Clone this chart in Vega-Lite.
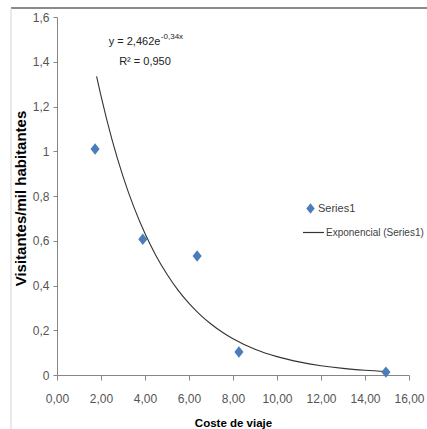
{
  "$schema": "https://vega.github.io/schema/vega-lite/v6.json",
  "width": 352,
  "height": 358,
  "autosize": "none",
  "padding": {"left": 57, "top": 17, "right": 18, "bottom": 54},
  "background": "white",
  "config": {"view": {"stroke": null}},
  "datasets": {
    "points": [
      {"coste": 1.73, "visitantes": 1.01},
      {"coste": 3.9, "visitantes": 0.607},
      {"coste": 6.37, "visitantes": 0.532},
      {"coste": 8.27, "visitantes": 0.103},
      {"coste": 14.95, "visitantes": 0.013}
    ],
    "curve": [
      {"coste": 1.8, "visitantes": 1.335},
      {"coste": 2.0, "visitantes": 1.247},
      {"coste": 2.5, "visitantes": 1.052},
      {"coste": 3.0, "visitantes": 0.888},
      {"coste": 3.5, "visitantes": 0.749},
      {"coste": 4.0, "visitantes": 0.632},
      {"coste": 4.5, "visitantes": 0.533},
      {"coste": 5.0, "visitantes": 0.45},
      {"coste": 5.5, "visitantes": 0.379},
      {"coste": 6.0, "visitantes": 0.32},
      {"coste": 6.5, "visitantes": 0.27},
      {"coste": 7.0, "visitantes": 0.228},
      {"coste": 7.5, "visitantes": 0.192},
      {"coste": 8.0, "visitantes": 0.162},
      {"coste": 9.0, "visitantes": 0.115},
      {"coste": 10.0, "visitantes": 0.082},
      {"coste": 11.0, "visitantes": 0.0585},
      {"coste": 12.0, "visitantes": 0.0416},
      {"coste": 13.0, "visitantes": 0.0296},
      {"coste": 14.0, "visitantes": 0.0211},
      {"coste": 15.0, "visitantes": 0.015}
    ],
    "eq": [{"t": "y = 2,462e"}],
    "eqsup": [{"t": "-0,34x"}],
    "r2": [{"t": "R² = 0,950"}],
    "one": [{}]
  },
  "layer": [
    {
      "data": {"name": "one"},
      "mark": {"type": "rule", "color": "#8a8a8a", "strokeWidth": 2},
      "encoding": {
        "x": {"datum": -2.09, "type": "quantitative", "scale": {"domain": [0, 16], "nice": false}},
        "x2": {"datum": 16.9},
        "y": {"datum": 1.64, "type": "quantitative", "scale": {"domain": [0, 1.6], "nice": false}}
      }
    },
    {
      "data": {"name": "one"},
      "mark": {"type": "rule", "color": "#d4d4d4", "strokeWidth": 1},
      "encoding": {
        "x": {"datum": -2.09, "type": "quantitative"},
        "y": {"datum": 1.64, "type": "quantitative"},
        "y2": {"datum": -0.25}
      }
    },
    {
      "data": {"name": "curve"},
      "mark": {"type": "line", "color": "#333333", "strokeWidth": 1.1, "interpolate": "monotone"},
      "encoding": {
        "x": {
          "field": "coste", "type": "quantitative",
          "scale": {"domain": [0, 16], "nice": false},
          "axis": {
            "values": [0, 2, 4, 6, 8, 10, 12, 14, 16],
            "labelExpr": "replace(format(datum.value, '.2f'), '.', ',')",
            "labelOverlap": false,
            "labelFlush": false,
            "grid": false,
            "domainColor": "#868686",
            "tickColor": "#868686",
            "tickSize": 5,
            "labelFont": "Liberation Sans, Arial, sans-serif",
            "labelFontSize": 12,
            "labelColor": "#555555",
            "labelPadding": 13,
            "title": "Coste de viaje",
            "titleFont": "Liberation Sans, Arial, sans-serif",
            "titleFontSize": 11.5,
            "titleFontWeight": "bold",
            "titleColor": "#000000",
            "titleX": 176,
            "titleY": 48,
            "titleBaseline": "middle",
            "titleAlign": "center"
          }
        },
        "y": {
          "field": "visitantes", "type": "quantitative",
          "scale": {"domain": [0, 1.6], "nice": false},
          "axis": {
            "values": [0, 0.2, 0.4, 0.6, 0.8, 1, 1.2, 1.4, 1.6],
            "labelExpr": "replace(format(datum.value, '~g'), '.', ',')",
            "grid": false,
            "domainColor": "#868686",
            "tickColor": "#868686",
            "tickSize": 4,
            "labelFont": "Liberation Sans, Arial, sans-serif",
            "labelFontSize": 12,
            "labelColor": "#555555",
            "labelPadding": 4,
            "title": "Visitantes/mil habitantes",
            "titleFont": "Liberation Sans, Arial, sans-serif",
            "titleFontSize": 15,
            "titleFontWeight": "bold",
            "titleColor": "#000000",
            "titleX": -37,
            "titleY": 181,
            "titleAngle": -90,
            "titleBaseline": "middle",
            "titleAlign": "center"
          }
        },
        "stroke": {
          "datum": "Exponencial (Series1)",
          "scale": {"range": ["#333333"]},
          "legend": {
            "title": null,
            "orient": "none",
            "legendX": 245,
            "legendY": 204,
            "symbolType": "stroke",
            "symbolSize": 441,
            "symbolStrokeWidth": 1.2,
            "symbolStrokeColor": "#333333",
            "labelFont": "Liberation Sans, Arial, sans-serif",
            "labelFontSize": 10,
            "labelColor": "#404040",
            "labelOffset": 1
          }
        }
      }
    },
    {
      "data": {"name": "points"},
      "mark": {"type": "point", "filled": true, "size": 130, "opacity": 1, "shape": "M-0.8,0L0,-1L0.8,0L0,1Z"},
      "encoding": {
        "x": {"field": "coste", "type": "quantitative"},
        "y": {"field": "visitantes", "type": "quantitative"},
        "fill": {
          "datum": "Series1",
          "scale": {"range": ["#4a7ebb"]},
          "legend": {
            "title": null,
            "orient": "none",
            "legendX": 248,
            "legendY": 186,
            "symbolType": "M-0.8,0L0,-1L0.8,0L0,1Z",
            "symbolSize": 110,
            "symbolFillColor": "#4a7ebb",
            "symbolStrokeWidth": 0,
            "labelFont": "Liberation Sans, Arial, sans-serif",
            "labelFontSize": 11,
            "labelColor": "#404040",
            "labelOffset": 2
          }
        }
      }
    },
    {
      "data": {"name": "eq"},
      "mark": {"type": "text", "align": "right", "baseline": "middle", "font": "Liberation Sans, Arial, sans-serif", "fontSize": 11, "color": "#222222"},
      "encoding": {
        "x": {"datum": 4.7, "type": "quantitative"},
        "y": {"datum": 1.49, "type": "quantitative"},
        "text": {"field": "t"}
      }
    },
    {
      "data": {"name": "eqsup"},
      "mark": {"type": "text", "align": "left", "baseline": "middle", "font": "Liberation Sans, Arial, sans-serif", "fontSize": 8, "color": "#222222"},
      "encoding": {
        "x": {"datum": 4.72, "type": "quantitative"},
        "y": {"datum": 1.51, "type": "quantitative"},
        "text": {"field": "t"}
      }
    },
    {
      "data": {"name": "r2"},
      "mark": {"type": "text", "align": "center", "baseline": "middle", "font": "Liberation Sans, Arial, sans-serif", "fontSize": 11, "color": "#222222"},
      "encoding": {
        "x": {"datum": 4.0, "type": "quantitative"},
        "y": {"datum": 1.40, "type": "quantitative"},
        "text": {"field": "t"}
      }
    }
  ],
  "resolve": {"scale": {"stroke": "independent", "fill": "independent"}}
}
